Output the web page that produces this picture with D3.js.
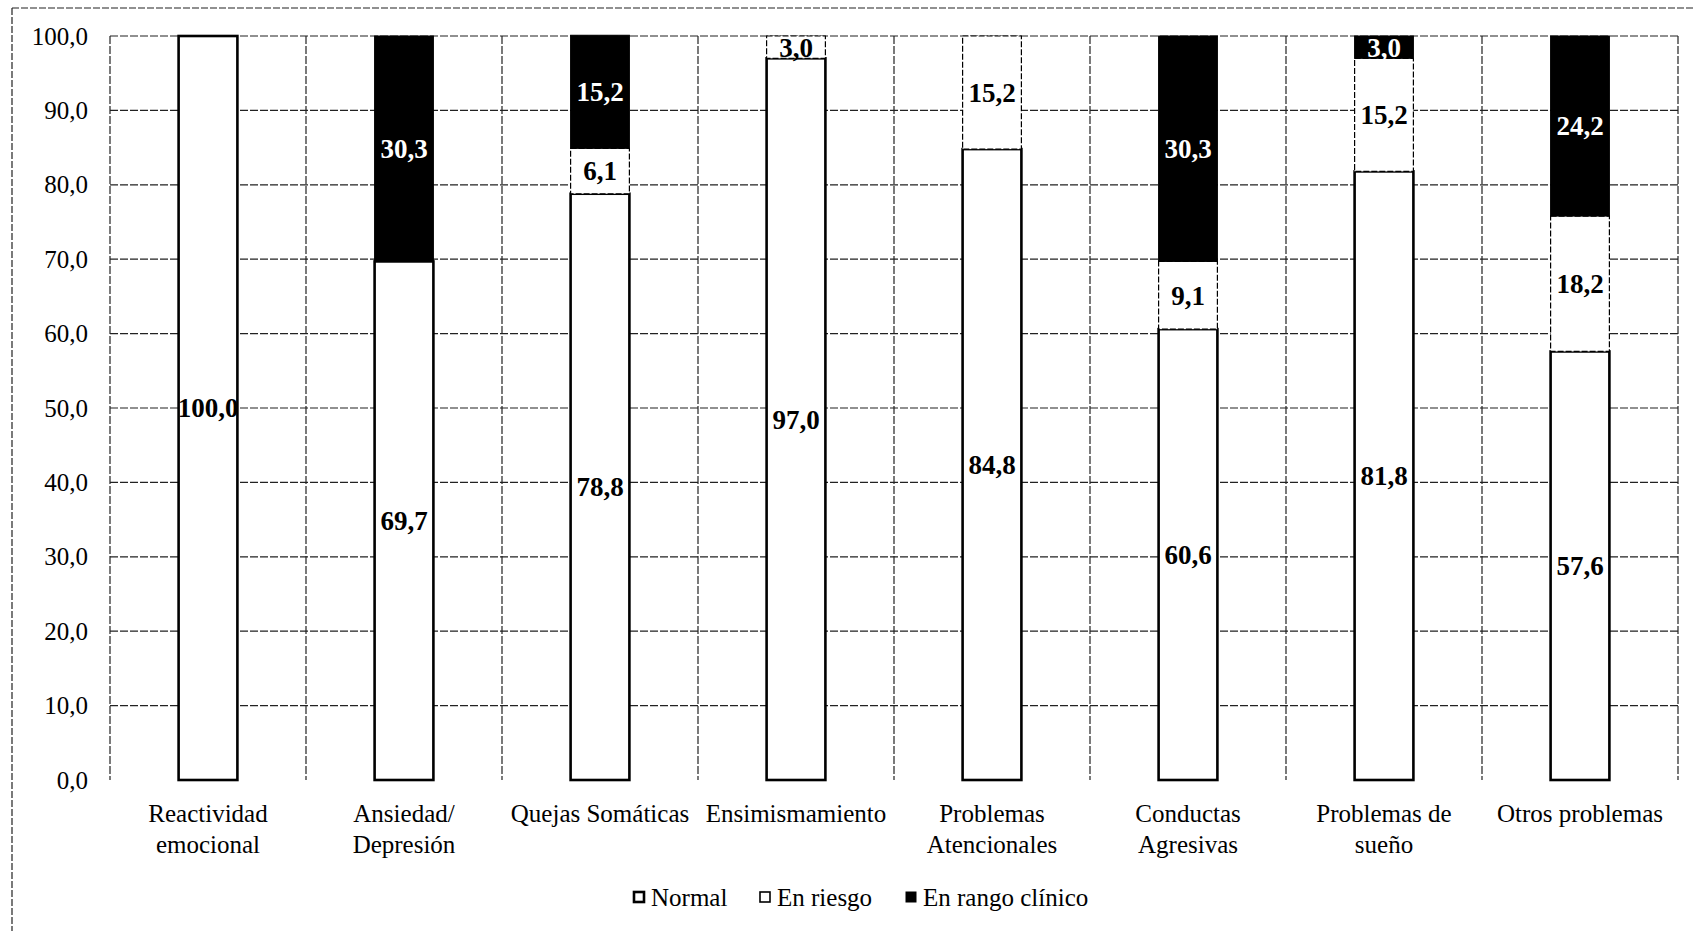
<!DOCTYPE html>
<html>
<head>
<meta charset="utf-8">
<script src="https://cdn.jsdelivr.net/npm/d3@7/dist/d3.min.js"></script>
<style>
  html, body { margin: 0; padding: 0; background: #fff; }
  svg { display: block; font-family: "Liberation Serif", "Times New Roman", serif; }
</style>
</head>
<body>
<svg id="chart" width="1694" height="931"></svg>
<script>
const categories = [
  ["Reactividad", "emocional"],
  ["Ansiedad/", "Depresión"],
  ["Quejas Somáticas"],
  ["Ensimismamiento"],
  ["Problemas", "Atencionales"],
  ["Conductas", "Agresivas"],
  ["Problemas de", "sueño"],
  ["Otros problemas"]
];
const seriesNames = ["Normal", "En riesgo", "En rango clínico"];
const normalValues  = [100.0, 69.7, 78.8, 97.0, 84.8, 60.6, 81.8, 57.6];
const riesgoValues  = [0, 0, 6.1, 3.0, 15.2, 9.1, 15.2, 18.2];
const clinicoValues = [0, 30.3, 15.2, 0, 0, 30.3, 3.0, 24.2];
const yTicks = [0, 10, 20, 30, 40, 50, 60, 70, 80, 90, 100];

(function () {
const svg = d3.select("#chart");
const W = 1694, H = 931;
const pLeft = 110, pRight = 1678, pTop = 36, pBottom = 780;

const catKeys = categories.map(c => c.join(" "));
const rows = catKeys.map((k, i) => ({
  key: k,
  "Normal": normalValues[i],
  "En riesgo": riesgoValues[i],
  "En rango clínico": clinicoValues[i]
}));

const x = d3.scaleBand().domain(catKeys).range([pLeft, pRight])
  .paddingInner(0.7).paddingOuter(0.35);
const xCat = d3.scaleBand().domain(catKeys).range([pLeft, pRight]).padding(0);
const y = d3.scaleLinear().domain([0, 100]).range([pBottom, pTop]);

const loc = d3.formatLocale({decimal: ",", thousands: ".", grouping: [3], currency: ["", ""]});
const fmt = loc.format(".1f");

// outer dashed frame (top and left)
svg.append("line").attr("x1", 12).attr("x2", W).attr("y1", 8).attr("y2", 8)
  .attr("stroke", "#222").attr("stroke-width", 1.2).attr("stroke-dasharray", "7,2");
svg.append("line").attr("x1", 12).attr("x2", 12).attr("y1", 8).attr("y2", H)
  .attr("stroke", "#222").attr("stroke-width", 1.2).attr("stroke-dasharray", "7,2");

// horizontal gridlines
const grid = svg.append("g");
grid.selectAll("line.h").data(yTicks.filter(t => t > 0)).join("line")
  .attr("class", "h")
  .attr("x1", pLeft).attr("x2", pRight)
  .attr("y1", d => y(d)).attr("y2", d => y(d))
  .attr("stroke", "#222").attr("stroke-width", 1.2).attr("stroke-dasharray", "8,2");
// vertical gridlines at category boundaries
const vb = catKeys.map(k => xCat(k)).concat([pRight]);
grid.selectAll("line.v").data(vb).join("line")
  .attr("class", "v")
  .attr("x1", d => d).attr("x2", d => d)
  .attr("y1", pTop).attr("y2", pBottom)
  .attr("stroke", "#222").attr("stroke-width", 1.2).attr("stroke-dasharray", "8,2");

// y axis labels
const yAxis = d3.axisLeft(y).tickValues(yTicks).tickFormat(fmt).tickSize(0).tickPadding(22);
const ya = svg.append("g").attr("transform", `translate(${pLeft},0)`).call(yAxis);
ya.select(".domain").remove();
ya.selectAll("text").attr("font-size", 25).attr("fill", "#000")
  .attr("font-family", "Liberation Serif, Times New Roman, serif");

// stacked bars
const stack = d3.stack().keys(seriesNames);
const stacked = stack(rows);
const styles = {
  "Normal": {fill: "#fff", stroke: "#000", sw: 2.6, dash: null, text: "#000"},
  "En riesgo": {fill: "#fff", stroke: "#000", sw: 1.2, dash: "6,2", text: "#000"},
  "En rango clínico": {fill: "#000", stroke: "#000", sw: 1, dash: null, text: "#fff"}
};
const barsG = svg.append("g");
stacked.forEach(layer => {
  const st = styles[layer.key];
  const segs = layer.map(d => ({d0: d[0], d1: d[1], key: d.data.key})).filter(s => s.d1 - s.d0 > 0);
  barsG.append("g").selectAll("rect").data(segs).join("rect")
    .attr("x", s => x(s.key))
    .attr("width", x.bandwidth())
    .attr("y", s => y(s.d1))
    .attr("height", s => y(s.d0) - y(s.d1))
    .attr("fill", st.fill)
    .attr("stroke", st.stroke)
    .attr("stroke-width", st.sw)
    .attr("stroke-dasharray", st.dash);
});
// labels
stacked.forEach(layer => {
  const st = styles[layer.key];
  const segs = layer.map(d => ({d0: d[0], d1: d[1], key: d.data.key})).filter(s => s.d1 - s.d0 > 0);
  barsG.append("g").selectAll("text").data(segs).join("text")
    .attr("x", s => x(s.key) + x.bandwidth() / 2)
    .attr("y", s => y((s.d0 + s.d1) / 2))
    .attr("dy", "0.35em")
    .attr("text-anchor", "middle")
    .attr("font-size", 27)
    .attr("font-weight", "bold")
    .attr("fill", st.text)
    .text(s => fmt(s.d1 - s.d0));
});

// category labels
const cl = svg.append("g");
categories.forEach((lines, i) => {
  const cx = xCat(catKeys[i]) + xCat.bandwidth() / 2;
  const t = cl.append("text").attr("x", cx).attr("y", 822)
    .attr("text-anchor", "middle").attr("font-size", 25).attr("fill", "#000");
  lines.forEach((ln, j) => {
    t.append("tspan").attr("x", cx).attr("dy", j === 0 ? 0 : 31).text(ln);
  });
});

// legend
const legendX = [633, 759, 905];
const lg = svg.append("g");
seriesNames.forEach((name, i) => {
  const st = styles[name];
  const g = lg.append("g").attr("transform", `translate(${legendX[i]},0)`);
  g.append("rect").attr("x", 1).attr("y", 892).attr("width", 10).attr("height", 10)
    .attr("fill", st.fill).attr("stroke", "#000")
    .attr("stroke-width", i === 0 ? 2.6 : (i === 1 ? 1.6 : 1));
  g.append("text").attr("x", 18).attr("y", 906).attr("font-size", 25).attr("fill", "#000").text(name);
});
})();
</script>
</body>
</html>
